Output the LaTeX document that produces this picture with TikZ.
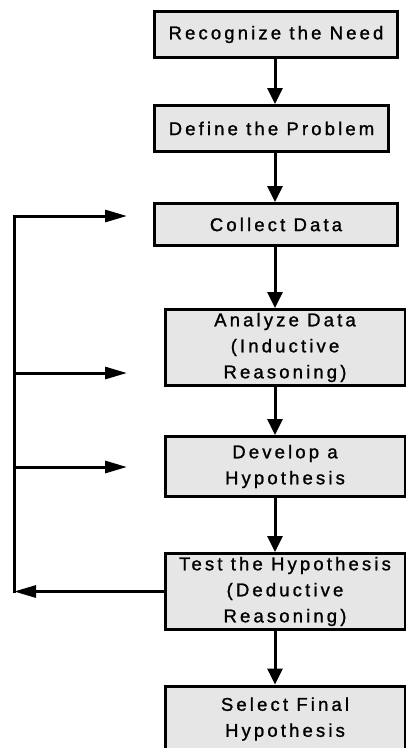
\documentclass[tikz,border=0pt]{standalone}
\usepackage{fontspec}
\setmainfont[LetterSpace=17,FakeBold=1.2]{Liberation Sans}
\usetikzlibrary{arrows.meta}
\tikzset{
  box/.style={draw=black, line width=3pt, fill=boxgray, align=center, inner sep=0pt,
    font={\fontsize{18.5}{26}\selectfont}},
  link/.style={line width=3pt, -{Triangle[width=15pt,length=16pt]}},
  side/.style={line width=3pt, -{Triangle[width=12pt,length=22pt]}},
  plain/.style={line width=3pt}
}
\definecolor{boxgray}{HTML}{E6E6E6}
\begin{document}
\begin{tikzpicture}[x=1pt,y=-1pt]
\useasboundingbox (0,0) rectangle (406,748);
\node[box, minimum width=243pt, minimum height=46pt] (r) at (276,34.5) {Recognize the Need};
\node[box, minimum width=234pt, minimum height=46pt] (p) at (271.5,128.5) {Define the Problem};
\node[box, minimum width=243pt, minimum height=42pt] (c) at (276,224.5) {Collect Data};
\node[box, minimum width=240pt, minimum height=76pt] (a) at (285,347.5) {Analyze Data\\(Inductive\\Reasoning)};
\node[box, minimum width=240pt, minimum height=60pt] (h) at (285,466.5) {Develop a\\Hypothesis};
\node[box, minimum width=240pt, minimum height=76pt] (t) at (285,591.5) {Test the Hypothesis\\(Deductive\\Reasoning)};
\node[box, minimum width=240pt, minimum height=66pt] (s) at (285,719) {Select Final\\Hypothesis};
\coordinate (ax) at (275,0);
\draw[link] (r.south -| ax) -- (p.north -| ax);
\draw[link] (p.south -| ax) -- (c.north -| ax);
\draw[link] (c.south -| ax) -- (a.north -| ax);
\draw[link] (a.south -| ax) -- (h.north -| ax);
\draw[link] (h.south -| ax) -- (t.north -| ax);
\draw[link] (t.south -| ax) -- (s.north -| ax);
% feedback loop
\coordinate (l0) at (14,591.5);
\coordinate (l1) at (14,216);
\coordinate (l2) at (14,373);
\coordinate (l3) at (14,467);
\coordinate (e1) at (127,216);
\coordinate (e2) at (127,373);
\coordinate (e3) at (127,467);
\draw[side] (t.west) -- (l0);
\draw[plain, line cap=rect] (l0) -- (l1);
\draw[side] (l1) -- (e1);
\draw[side] (l2) -- (e2);
\draw[side] (l3) -- (e3);
\end{tikzpicture}
\end{document}
